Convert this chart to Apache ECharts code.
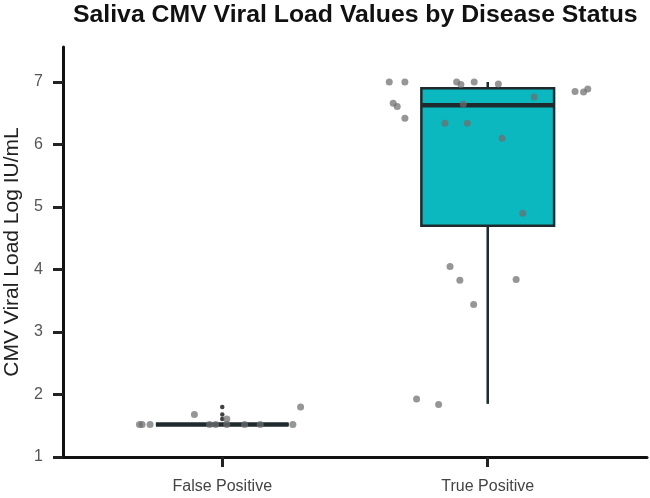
<!DOCTYPE html>
<html>
<head>
<meta charset="utf-8">
<script src="https://cdn.jsdelivr.net/npm/echarts@6/dist/echarts.min.js"></script>
<style>
  html, body { margin: 0; padding: 0; background: #fff; }
  #chart { width: 650px; height: 498px; }
</style>
</head>
<body>
<div id="chart"></div>
<script>
const categories = ['False Positive', 'True Positive']
const yTicks = [1, 2, 3, 4, 5, 6, 7]

// [category index, min, q1, median, q3, max]
const boxStats = [
  [0, 1.52, 1.52, 1.52, 1.52, 1.52],
  [1, 1.85, 4.70, 6.63, 6.90, 7.00],
]

// outliers of the False Positive box
const outliers = [
  [0, 1.80],
  [0, 1.68],
  [0, 1.61],
]

// jittered raw points: [x position (category + jitter), log value]
const falsePositivePoints = [
  [-0.312, 1.52], [-0.302, 1.52], [-0.272, 1.52], [-0.105, 1.68],
  [-0.048, 1.52], [-0.025, 1.52], [0.017, 1.61], [0.017, 1.52],
  [0.084, 1.52], [0.143, 1.52], [0.266, 1.52], [0.295, 1.80],
]
const truePositivePoints = [
  [0.629, 7.00], [0.688, 7.00], [0.883, 7.00], [0.899, 6.96],
  [0.949, 7.00], [1.040, 6.97], [0.644, 6.66], [0.659, 6.61],
  [0.688, 6.42], [0.908, 6.65], [0.839, 6.34], [0.923, 6.34],
  [1.175, 6.76], [1.054, 6.10], [1.329, 6.85], [1.361, 6.84],
  [1.377, 6.89], [1.132, 4.90], [0.858, 4.05], [0.895, 3.83],
  [1.107, 3.84], [0.947, 3.44], [0.732, 1.93], [0.815, 1.84],
]

const boxHalf = 0.25
const dark = '#1f2a2e'

const chart = echarts.init(document.getElementById('chart'))

chart.setOption({
  animation: false,
  title: {
    text: 'Saliva CMV Viral Load Values by Disease Status',
    left: 73,
    top: 3,
    padding: 0,
    textStyle: { fontFamily: 'Liberation Sans', fontSize: 24.8, fontWeight: 'bold', color: '#111' },
  },
  grid: { left: 63, right: 3, top: 47, bottom: 41, outerBoundsMode: 'none' },
  xAxis: {
    type: 'value',
    min: -0.6,
    max: 1.6,
    splitLine: { show: false },
    axisLine: { onZero: false, lineStyle: { color: '#111', width: 3 } },
    axisTick: { customValues: [0, 1], length: 10, lineStyle: { color: '#222', width: 3 } },
    axisLabel: {
      customValues: [0, 1],
      formatter: (v) => categories[Math.round(v)],
      margin: 22,
      fontFamily: 'Liberation Sans',
      fontSize: 16,
      color: '#444',
    },
  },
  yAxis: {
    type: 'value',
    min: 1,
    max: 7.56,
    name: 'CMV Viral Load Log IU/mL',
    nameLocation: 'middle',
    nameGap: 36,
    nameTextStyle: { fontFamily: 'Liberation Sans', fontSize: 21, color: '#222' },
    splitLine: { show: false },
    axisLine: { show: true, onZero: false, lineStyle: { color: '#111', width: 3 } },
    axisTick: { show: true, customValues: yTicks, length: 10, lineStyle: { color: '#222', width: 3 } },
    axisLabel: {
      customValues: yTicks,
      margin: 20,
      fontFamily: 'Liberation Sans',
      fontSize: 16,
      color: '#555',
    },
  },
  series: [
    {
      type: 'custom',
      z: 2,
      data: boxStats,
      renderItem: (params, api) => {
        const x = api.value(0)
        const pMin = api.coord([x, api.value(1)])
        const pQ1 = api.coord([x, api.value(2)])
        const pMed = api.coord([x, api.value(3)])
        const pQ3 = api.coord([x, api.value(4)])
        const pMax = api.coord([x, api.value(5)])
        const xl = api.coord([x - boxHalf, 0])[0]
        const xr = api.coord([x + boxHalf, 0])[0]
        const wStyle = { stroke: dark, lineWidth: 2.5 }
        return {
          type: 'group',
          children: [
            { type: 'line', shape: { x1: pMax[0], y1: pMax[1], x2: pQ3[0], y2: pQ3[1] }, style: wStyle },
            { type: 'line', shape: { x1: pMin[0], y1: pMin[1], x2: pQ1[0], y2: pQ1[1] }, style: wStyle },
            {
              type: 'rect',
              shape: { x: xl, y: pQ3[1], width: xr - xl, height: pQ1[1] - pQ3[1] },
              style: { fill: '#0bb8bf', stroke: dark, lineWidth: 2.5 },
            },
            { type: 'line', shape: { x1: xl, y1: pMed[1], x2: xr, y2: pMed[1] }, style: { stroke: dark, lineWidth: 4.5 } },
          ],
        }
      },
    },
    {
      type: 'scatter',
      z: 3,
      data: outliers,
      symbolSize: 4.5,
      itemStyle: { color: '#111' },
    },
    {
      type: 'scatter',
      z: 4,
      data: falsePositivePoints,
      symbolSize: 7,
      itemStyle: { color: '#6e6e6e', opacity: 0.72 },
    },
    {
      type: 'scatter',
      z: 4,
      data: truePositivePoints,
      symbolSize: 7,
      itemStyle: { color: '#6e6e6e', opacity: 0.72 },
    },
  ],
})
</script>
</body>
</html>
